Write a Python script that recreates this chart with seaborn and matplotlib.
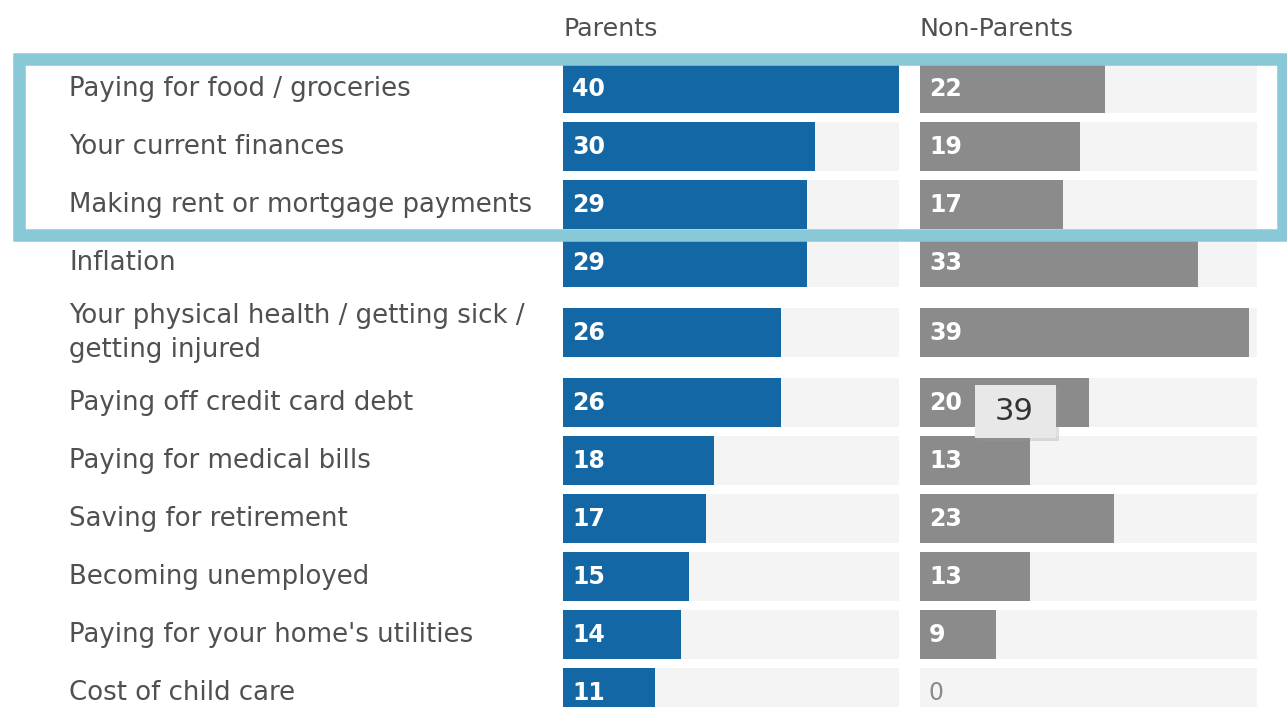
import numpy as np
import pandas as pd
import matplotlib
matplotlib.use("Agg")
import matplotlib.pyplot as plt
import matplotlib.transforms as mtransforms
import matplotlib.patheffects as pe
from matplotlib.patches import Rectangle
import seaborn as sns

# ---- data -------------------------------------------------------------
concerns = [
    "Paying for food / groceries",
    "Your current finances",
    "Making rent or mortgage payments",
    "Inflation",
    "Your physical health / getting sick /\ngetting injured",
    "Paying off credit card debt",
    "Paying for medical bills",
    "Saving for retirement",
    "Becoming unemployed",
    "Paying for your home's utilities",
    "Cost of child care",
]
parents = [40, 30, 29, 29, 26, 26, 18, 17, 15, 14, 11]
non_parents = [22, 19, 17, 33, 39, 20, 13, 23, 13, 9, 0]
group_titles = ["Parents", "Non-Parents"]
scale_max = 40
tooltip_value = 39

# ---- style ------------------------------------------------------------
sns.set_theme(style="white")
plt.rcParams["font.family"] = ["DejaVu Sans"]

BLUE = "#1467a5"
GREY = "#8b8b8b"
TRACK = "#f4f4f4"
TEXT = "#505050"
FRAME = "#88c8d7"

W, H, DPI = 1287, 707, 100
fig = plt.figure(figsize=(W / DPI, H / DPI), dpi=DPI)
fig.patch.set_facecolor("white")

# rows: one unit per single-line row, extra room for wrapped labels
row_px = 58
extra_per_line = 24 / row_px
heights = np.array([1 + extra_per_line * c.count("\n") for c in concerns])
edges = np.concatenate([[0], np.cumsum(heights)])
centers = edges[:-1] + heights / 2

top_px = 59.5
axes_h_px = H - top_px
y_bottom = axes_h_px / row_px

df = pd.DataFrame({
    "concern": concerns,
    "pos": centers,
    "Parents": parents,
    "Non-Parents": non_parents,
    "track": [scale_max] * len(concerns),
})

panels = [
    ("Parents", BLUE, 563, 899),
    ("Non-Parents", GREY, 920, 1257),
]

axes = []
for (col, color, left, right), title in zip(panels, group_titles):
    ax = fig.add_axes([left / W, 0, (right - left) / W, axes_h_px / H])
    sns.barplot(data=df, x="track", y="pos", orient="y", native_scale=True,
                color=TRACK, saturation=1, width=0.83, linewidth=0,
                errorbar=None, ax=ax)
    sns.barplot(data=df, x=col, y="pos", orient="y", native_scale=True,
                color=color, saturation=1, width=0.83, linewidth=0,
                errorbar=None, ax=ax)
    ax.set_xlim(0, scale_max)
    ax.set_ylim(y_bottom, 0)
    ax.axis("off")
    for v, c in zip(df[col], df["pos"]):
        ax.annotate(f"{v}", xy=(0, c), xytext=(9, 0), textcoords="offset pixels",
                    ha="left", va="center", fontsize=17,
                    color="white" if v > 0 else "#8a8a8a",
                    fontweight="bold" if v > 0 else "normal")
    fig.text(left / W, 1 - 29 / H, title, ha="left", va="center",
             fontsize=18.3, color=TEXT)
    axes.append(ax)

# category labels on the left, aligned with the rows
lab_tr = mtransforms.blended_transform_factory(fig.transFigure, axes[0].transData)
for label, c in zip(concerns, centers):
    axes[0].text(69 / W, c, label, transform=lab_tr, ha="left", va="center",
                 fontsize=18.7, color=TEXT, linespacing=1.4)

# hover tooltip over the non-parents column
tip = Rectangle((975 / W, 1 - 438 / H), 81 / W, 53 / H, transform=fig.transFigure,
                facecolor="#e8e8e8", edgecolor="none", zorder=20,
                path_effects=[pe.withSimplePatchShadow(offset=(2, -2),
                                                       shadow_rgbFace="#999999",
                                                       alpha=0.3)])
fig.add_artist(tip)
fig.text(1014 / W, 1 - 411 / H, f"{tooltip_value}", ha="center", va="center",
         fontsize=22, color="#333333", zorder=21)

# highlight frame around the top three concerns
frame = Rectangle((19 / W, 1 - 235 / H), (1283 - 19) / W, (235 - 58.5) / H,
                  transform=fig.transFigure, fill=False, edgecolor=FRAME,
                  linewidth=12.5 * 72 / DPI, zorder=30)
fig.add_artist(frame)

fig.savefig("out.png", dpi=DPI, facecolor="white")
